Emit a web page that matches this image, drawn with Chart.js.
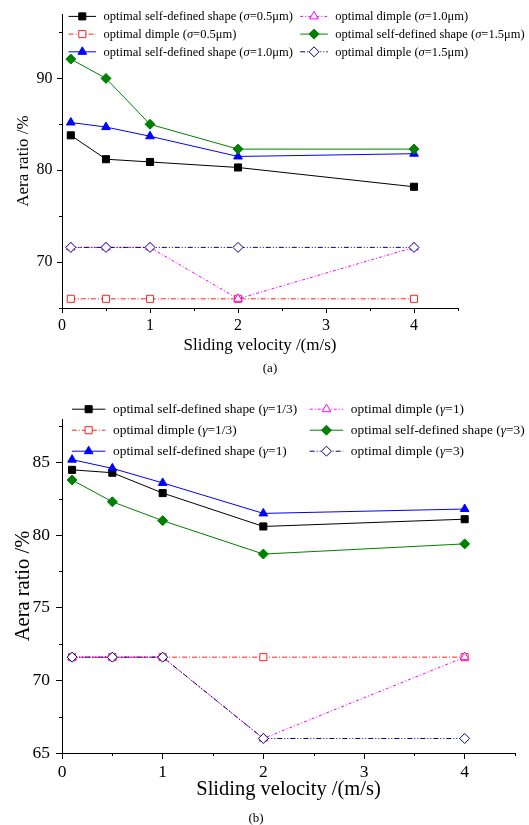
<!DOCTYPE html>
<html>
<head>
<meta charset="utf-8">
<script src="https://cdn.jsdelivr.net/npm/chart.js@4.4.1/dist/chart.umd.min.js"></script>
<style>
  body { margin: 0; background: #fff; width: 529px; height: 825px; position: relative; overflow: hidden; font-family: "Liberation Serif", "Times New Roman", serif; }
  canvas { position: absolute; left: 0; }
  #chartA { top: 0; }
  #chartB { top: 380px; }
  .cap { position: absolute; font-size: 13px; line-height: 1; transform: translateX(-50%); color: #000; }
</style>
</head>
<body>
<canvas id="chartA" width="529" height="380"></canvas>
<canvas id="chartB" width="529" height="445"></canvas>
<div class="cap" style="left:270px; top:361px">(a)</div>
<div class="cap" style="left:256px; top:811px">(b)</div>
<script>
const FONT = '"Liberation Serif", "Times New Roman", serif'

const velocity = [0.1, 0.5, 1, 2, 4]
const xTicks = [0, 1, 2, 3, 4]
const xMinor = [0.5, 1.5, 2.5, 3.5, 4.5]

// (a) roughness sigma
const labelsA = [
  "optimal self-defined shape (σ=0.5μm)",
  "optimal dimple (σ=0.5μm)",
  "optimal self-defined shape (σ=1.0μm)",
  "optimal dimple (σ=1.0μm)",
  "optimal self-defined shape (σ=1.5μm)",
  "optimal dimple (σ=1.5μm)"
]
const selfA05 = [83.8, 81.2, 80.9, 80.3, 78.2]
const dimpleA05 = [66.0, 66.0, 66.0, 66.0, 66.0]
const selfA10 = [85.2, 84.7, 83.7, 81.5, 81.8]
const dimpleA10 = [71.6, 71.6, 71.6, 66.0, 71.6]
const selfA15 = [92.1, 90.0, 85.0, 82.3, 82.3]
const dimpleA15 = [71.6, 71.6, 71.6, 71.6, 71.6]
const yTicksA = [70, 80, 90]
const yMinorA = [65, 75, 85, 95]

// (b) gamma
const labelsB = [
  "optimal self-defined shape (γ=1/3)",
  "optimal dimple (γ=1/3)",
  "optimal self-defined shape (γ=1)",
  "optimal dimple (γ=1)",
  "optimal self-defined shape (γ=3)",
  "optimal dimple (γ=3)"
]
const selfB13 = [84.5, 84.3, 82.9, 80.6, 81.1]
const dimpleB13 = [71.6, 71.6, 71.6, 71.6, 71.6]
const selfB1 = [85.2, 84.6, 83.6, 81.5, 81.8]
const dimpleB1 = [71.6, 71.6, 71.6, 66.0, 71.6]
const selfB3 = [83.8, 82.3, 81.0, 78.7, 79.4]
const dimpleB3 = [71.6, 71.6, 71.6, 66.0, 66.0]
const yTicksB = [65, 70, 75, 80, 85]
const yMinorB = [67.5, 72.5, 77.5, 82.5, 87.5]

// one look per series slot, same in both panels
const looks = [
  { color: "#000000", point: "rect", filled: true, dash: [] },
  { color: "#ff2020", point: "rect", filled: false, dash: [5, 2, 1, 2] },
  { color: "#0000ff", point: "triangle", filled: true, dash: [] },
  { color: "#ff00ff", point: "triangle", filled: false, dash: [3, 2, 1, 2] },
  { color: "#008000", point: "rectRot", filled: true, dash: [] },
  { color: "#000080", point: "rectRot", filled: false, dash: [5, 2, 1, 2, 1, 2] }
]

const makeDatasets = (labels, series) => series.map((vals, i) => {
  const lk = looks[i]
  return {
    label: labels[i],
    data: velocity.map((v, k) => ({ x: v, y: vals[k] })),
    borderColor: lk.color,
    backgroundColor: lk.color,
    borderWidth: 1,
    borderDash: lk.dash,
    pointStyle: lk.point,
    pointRadius: 5,
    pointBackgroundColor: lk.filled ? lk.color : "#ffffff",
    pointBorderColor: lk.color,
    pointBorderWidth: 1,
    tension: 0,
    fill: false,
    order: series.length - i
  }
})

const minorTicks = {
  id: "minorTicks",
  afterDraw(chart, args, opts) {
    const { ctx, scales: { x, y } } = chart
    ctx.save()
    ctx.strokeStyle = "#000"
    ctx.lineWidth = 1
    ctx.beginPath()
    opts.x.forEach(v => {
      const px = Math.round(x.getPixelForValue(v)) + 0.5
      ctx.moveTo(px, x.top)
      ctx.lineTo(px, x.top + 3)
    })
    opts.y.forEach(v => {
      const py = Math.round(y.getPixelForValue(v)) + 0.5
      ctx.moveTo(y.right, py)
      ctx.lineTo(y.right - 3, py)
    })
    ctx.stroke()
    ctx.restore()
  }
}

// Origin-style two column legend, greek letters in italic
const sketchLegend = {
  id: "sketchLegend",
  afterDraw(chart, args, opts) {
    const ctx = chart.ctx
    ctx.save()
    chart.data.datasets.forEach((ds, i) => {
      const col = Math.floor(i / 3)
      const row = i % 3
      const x0 = opts.cols[col]
      const y = opts.top + row * opts.rowGap
      ctx.strokeStyle = ds.borderColor
      ctx.lineWidth = 1
      ctx.setLineDash(ds.borderDash)
      ctx.beginPath()
      ctx.moveTo(x0, y + 0.5)
      ctx.lineTo(x0 + opts.lineLen, y + 0.5)
      ctx.stroke()
      ctx.setLineDash([])
      ctx.fillStyle = ds.pointBackgroundColor
      ctx.strokeStyle = ds.pointBorderColor
      Chart.helpers.drawPoint(ctx, { pointStyle: ds.pointStyle, radius: ds.pointRadius, borderWidth: 1, rotation: 0 }, x0 + opts.lineLen / 2, y + 0.5)

      let tx = x0 + opts.lineLen + opts.gap
      ctx.fillStyle = "#000"
      ctx.textBaseline = "middle"
      ds.label.split(/([σγ])/).forEach(part => {
        if (!part) return
        const italic = part === "σ" || part === "γ"
        ctx.font = (italic ? "italic " : "") + opts.size + "px " + FONT
        ctx.fillText(part, tx, y + 1)
        tx += ctx.measureText(part).width
      })
    })
    ctx.restore()
  }
}

const newChart = (id, cfg) => new Chart(document.getElementById(id), {
  type: "line",
  data: { datasets: makeDatasets(cfg.labels, cfg.series) },
  plugins: [minorTicks, sketchLegend],
  options: {
    responsive: false,
    animation: false,
    events: [],
    layout: { padding: cfg.padding },
    plugins: {
      legend: { display: false },
      tooltip: { enabled: false },
      minorTicks: { x: xMinor, y: cfg.yMinor },
      sketchLegend: cfg.legend
    },
    scales: {
      x: {
        type: "linear",
        min: 0,
        max: 4.5,
        afterBuildTicks: s => { s.ticks = xTicks.map(v => ({ value: v })) },
        afterFit: s => { s.height = 58 },
        grid: { drawOnChartArea: false, tickLength: cfg.tickLen, tickColor: "#000" },
        border: { display: true, color: "#000", width: 1 },
        ticks: { color: "#000", font: { family: FONT, size: cfg.tickSize }, padding: 3, maxRotation: 0, autoSkip: false },
        title: { display: true, text: "Sliding velocity /(m/s)", color: "#000", font: { family: FONT, size: cfg.titleSize }, padding: { top: 0, bottom: cfg.xTitlePad } }
      },
      y: {
        type: "linear",
        min: cfg.yMin,
        max: cfg.yMax,
        afterBuildTicks: s => { s.ticks = cfg.yTicks.map(v => ({ value: v })) },
        afterFit: s => { s.width = 62 },
        grid: { drawOnChartArea: false, tickLength: cfg.tickLen, tickColor: "#000" },
        border: { display: true, color: "#000", width: 1 },
        ticks: { color: "#000", font: { family: FONT, size: cfg.tickSize }, padding: cfg.yTickPad, autoSkip: false },
        title: { display: true, text: "Aera ratio /%", color: "#000", font: { family: FONT, size: cfg.titleSize }, padding: { top: cfg.yTitlePad, bottom: 0 } }
      }
    }
  }
})

const chartA = newChart("chartA", {
  labels: labelsA,
  series: [selfA05, dimpleA05, selfA10, dimpleA10, selfA15, dimpleA15],
  yMin: 65, yMax: 97, yTicks: yTicksA, yMinor: yMinorA,
  padding: { left: 0, right: 71, top: 14, bottom: 14 },
  tickSize: 16, tickLen: 5, titleSize: 17, xTitlePad: 10, yTickPad: 4.5, yTitlePad: 13,
  legend: { cols: [68.5, 300.2], top: 15.9, rowGap: 17.7, lineLen: 27.6, gap: 7.5, size: 12.5 }
})

const chartB = newChart("chartB", {
  labels: labelsB,
  series: [selfB13, dimpleB13, selfB1, dimpleB1, selfB3, dimpleB3],
  yMin: 65, yMax: 88, yTicks: yTicksB, yMinor: yMinorB,
  padding: { left: 0, right: 14, top: 39, bottom: 14 },
  tickSize: 17.5, tickLen: 6, titleSize: 20.5, xTitlePad: 9.5, yTickPad: 6, yTitlePad: 11,
  legend: { cols: [71.9, 309.7], top: 28.7, rowGap: 21, lineLen: 33.5, gap: 7.6, size: 13.4 }
})
</script>
</body>
</html>
